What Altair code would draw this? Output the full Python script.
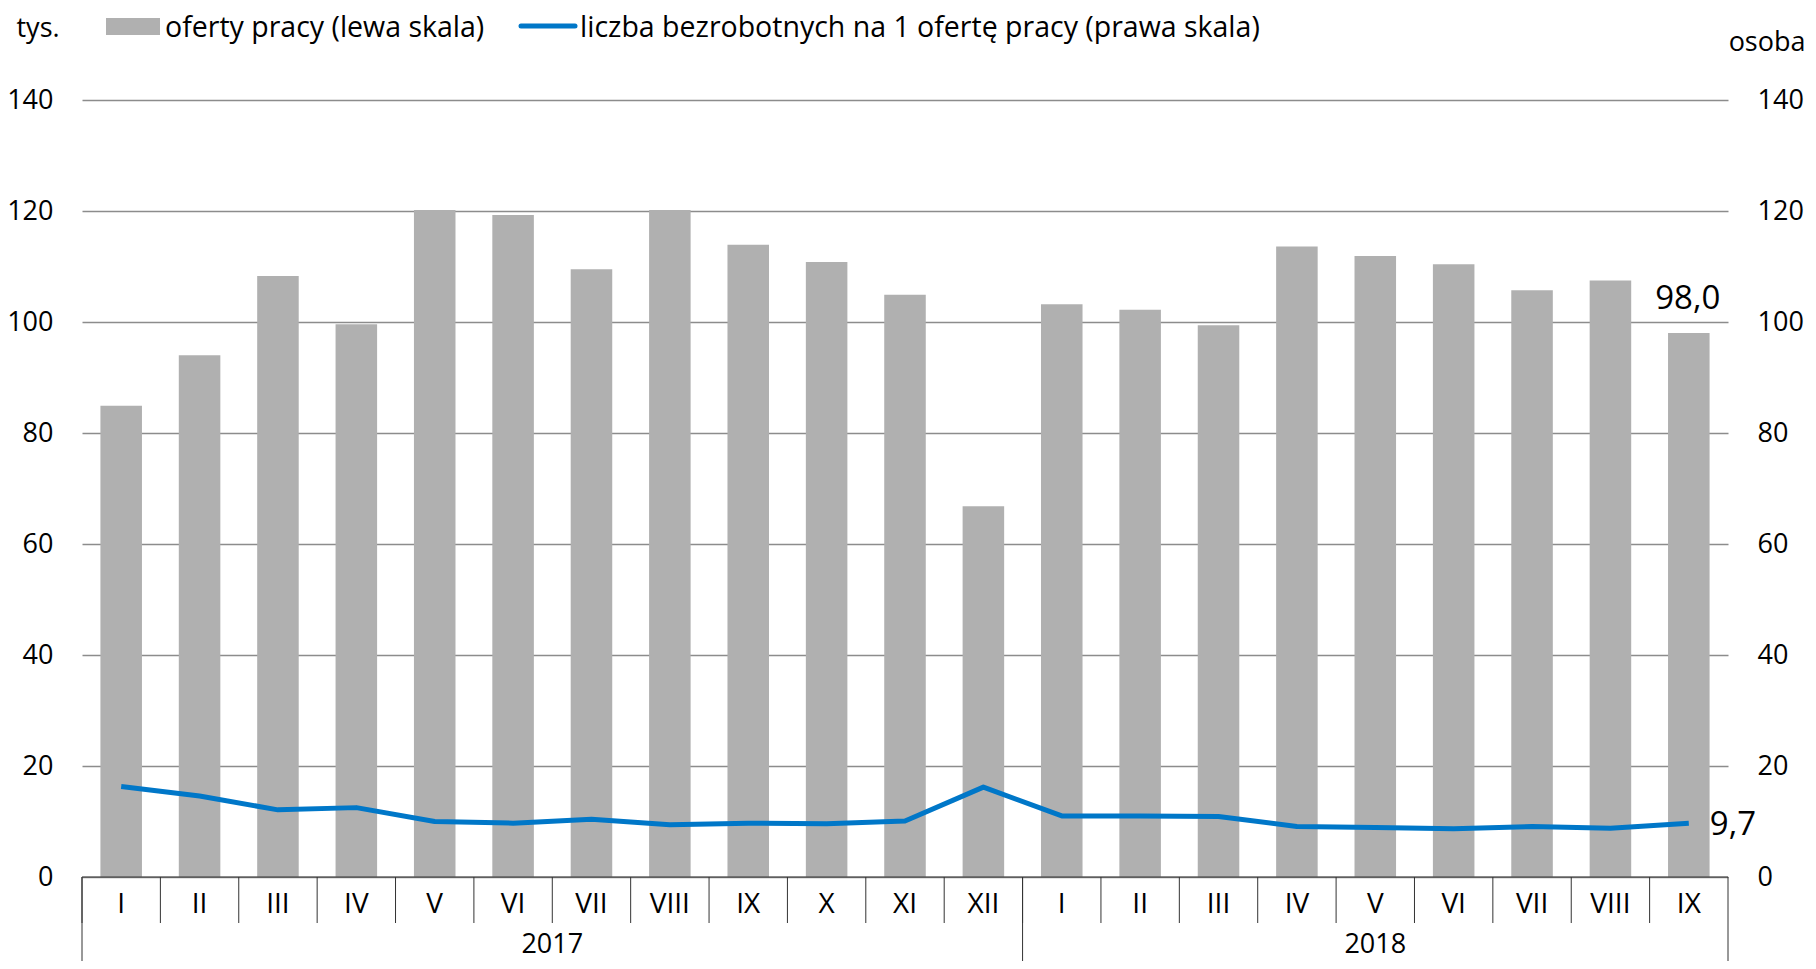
import altair as alt
import pandas as pd

FONT = "Open Sans, sans-serif"

months = ["I", "II", "III", "IV", "V", "VI", "VII", "VIII", "IX", "X", "XI", "XII",
          "I", "II", "III", "IV", "V", "VI", "VII", "VIII", "IX"]
years = ["2017"] * 12 + ["2018"] * 9
offers = [84.9, 94.0, 108.3, 99.6, 120.2, 119.3, 109.5, 120.2, 113.9, 110.8, 104.9, 66.8,
          103.2, 102.2, 99.4, 113.6, 111.9, 110.4, 105.7, 107.5, 98.0]
ratio = [16.3, 14.6, 12.1, 12.5, 10.0, 9.7, 10.4, 9.4, 9.7, 9.6, 10.1, 16.2,
         11.0, 11.0, 10.9, 9.1, 8.9, 8.7, 9.1, 8.8, 9.7]
legend_labels = ["oferty pracy (lewa skala)",
                 "liczba bezrobotnych na 1 ofertę pracy (prawa skala)"]
left_title = "tys."
right_title = "osoba"

df = pd.DataFrame({
    "key": [f"{y}-{m}" for y, m in zip(years, months)],
    "month": months, "year": years, "offers": offers, "ratio": ratio,
})
keys = list(df["key"])
last_key = keys[-1]

W, H = 1646, 777
GRID = "#8c8c8c"
SEP = "#333333"
BLUE = "#0077c8"
BARC = "#b0b0b0"

xs = alt.X("key:N", sort=keys, scale=alt.Scale(paddingInner=0, paddingOuter=0), axis=None)
yscale = alt.Scale(domain=[0, 140], nice=False)
ticks = list(range(0, 141, 20))

base = alt.Chart(df)

bars = base.mark_bar(color=BARC, width={"band": 0.53}).encode(
    x=xs,
    y=alt.Y("offers:Q", scale=yscale, axis=alt.Axis(
        orient="left", values=ticks, grid=True, gridColor=GRID, gridWidth=1.3,
        domain=False, ticks=False, labelPadding=29, labelFontSize=27, labelFont=FONT,
        labelColor="#000", title=left_title, titleAngle=0, titleAlign="left",
        titleBaseline="middle", titleX=-66, titleY=-72, titleFontWeight="normal",
        titleFontSize=27, titleFont=FONT, titleColor="#000")),
)

line = base.mark_line(color=BLUE, strokeWidth=5, strokeJoin="round").encode(
    x=xs,
    y=alt.Y("ratio:Q", scale=yscale, axis=alt.Axis(
        orient="right", values=ticks, grid=False, domain=False, ticks=False,
        labelPadding=29, labelFontSize=27, labelFont=FONT, labelColor="#000",
        title=right_title, titleAngle=0, titleAlign="right", titleBaseline="middle",
        titleX=77, titleY=-58, titleFontWeight="normal", titleFontSize=27,
        titleFont=FONT, titleColor="#000")),
)

bar_label = base.transform_filter(alt.datum.key == last_key).transform_calculate(
    lbl="replace(format(datum.offers, '.1f'), '.', ',')"
).mark_text(fontSize=33, font=FONT, color="#000", dy=-24, dx=-1,
            baseline="alphabetic").encode(
    x=xs, y=alt.Y("offers:Q", scale=yscale, axis=None), text="lbl:N")

line_label = base.transform_filter(alt.datum.key == last_key).transform_calculate(
    lbl="replace(format(datum.ratio, '.1f'), '.', ',')"
).mark_text(fontSize=33, font=FONT, color="#000", dx=21, dy=12, align="left",
            baseline="alphabetic").encode(
    x=xs, y=alt.Y("ratio:Q", scale=yscale, axis=None), text="lbl:N")

one = alt.Chart(pd.DataFrame({"k": [0]}))

axis_line = one.mark_rule(color=SEP, strokeWidth=1.2).encode(
    x=alt.value(0), x2=alt.value(W), y=alt.value(H))

month_sep = base.mark_rule(color=SEP, strokeWidth=1).encode(
    x=alt.X("key:N", sort=keys, bandPosition=0, axis=None),
    y=alt.value(H), y2=alt.value(H + 46))

year_sep = base.transform_filter(alt.datum.month == "I").mark_rule(
    color=SEP, strokeWidth=1).encode(
    x=alt.X("key:N", sort=keys, bandPosition=0, axis=None),
    y=alt.value(H), y2=alt.value(H + 85))

end_sep = base.transform_filter(alt.datum.key == last_key).mark_rule(
    color=SEP, strokeWidth=1).encode(
    x=alt.X("key:N", sort=keys, bandPosition=1, axis=None),
    y=alt.value(H), y2=alt.value(H + 85))

month_text = base.mark_text(fontSize=28, font=FONT, color="#000",
                            baseline="alphabetic").encode(
    x=xs, y=alt.value(H + 36), text="month:N")

year1 = base.transform_filter(alt.datum.key == "2017-VII").mark_text(
    fontSize=27, font=FONT, color="#000", baseline="alphabetic").encode(
    x=alt.X("key:N", sort=keys, bandPosition=0, axis=None),
    y=alt.value(H + 76), text="year:N")

year2 = base.transform_filter(alt.datum.key == "2018-V").mark_text(
    fontSize=27, font=FONT, color="#000", baseline="alphabetic").encode(
    x=xs, y=alt.value(H + 76), text="year:N")

leg_df = pd.DataFrame({"label": legend_labels})
leg_rect = alt.Chart(leg_df).transform_filter(alt.datum.label == legend_labels[0]).mark_rect(
    color=BARC).encode(x=alt.value(24), x2=alt.value(78), y=alt.value(-82), y2=alt.value(-65))
leg_line = alt.Chart(leg_df).transform_filter(alt.datum.label == legend_labels[1]).mark_rule(
    color=BLUE, strokeWidth=5, strokeCap="round").encode(
    x=alt.value(439), x2=alt.value(493), y=alt.value(-74))
leg_t1 = alt.Chart(leg_df).transform_filter(alt.datum.label == legend_labels[0]).mark_text(
    fontSize=28.5, font=FONT, color="#000", align="left", baseline="alphabetic").encode(
    x=alt.value(83), y=alt.value(-63), text="label:N")
leg_t2 = alt.Chart(leg_df).transform_filter(alt.datum.label == legend_labels[1]).mark_text(
    fontSize=28.5, font=FONT, color="#000", align="left", baseline="alphabetic").encode(
    x=alt.value(498), y=alt.value(-63), text="label:N")

chart = alt.layer(
    bars, line, bar_label, line_label, axis_line, month_sep, year_sep, end_sep,
    month_text, year1, year2, leg_rect, leg_line, leg_t1, leg_t2,
).resolve_axis(y="independent").properties(
    width=W, height=H,
    padding={"left": 74, "top": 92, "right": 80, "bottom": 84},
    autosize=alt.AutoSizeParams(type="none"),
).configure_view(stroke=None)

chart.save("out.html", embed_options={"renderer": "svg", "actions": False})
